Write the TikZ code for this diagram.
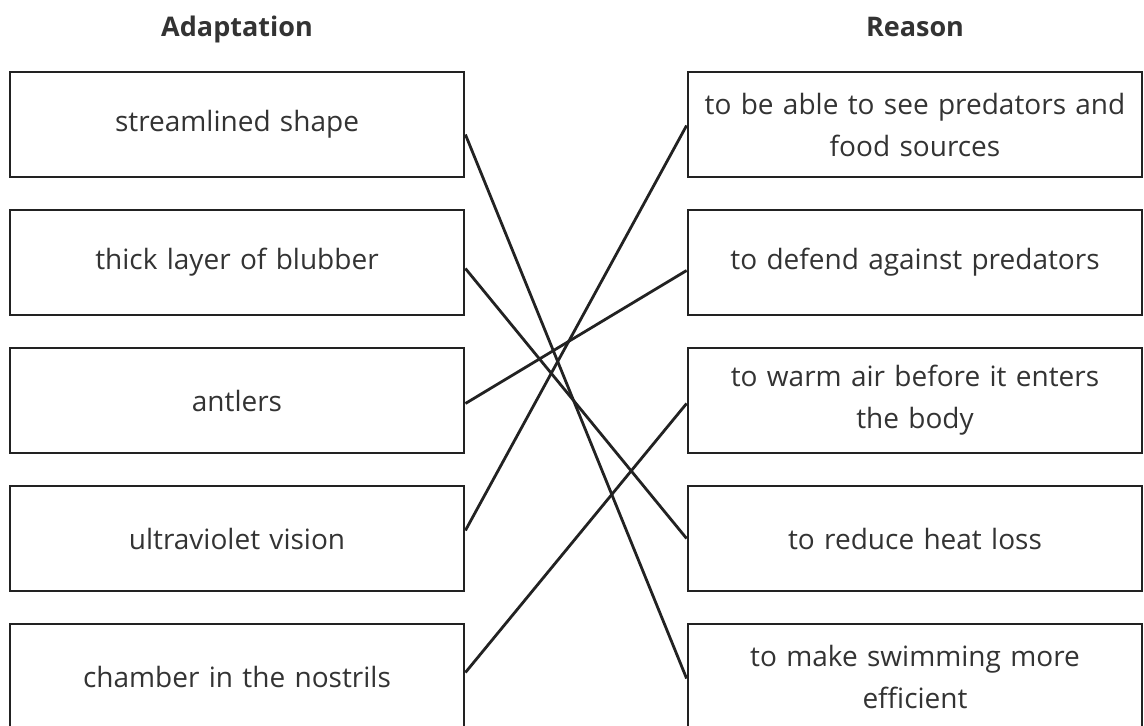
\documentclass[tikz,border=0pt]{standalone}
\usepackage{fontspec}
\setmainfont{Open Sans}
\definecolor{ink}{HTML}{222222}
\definecolor{txt}{HTML}{333333}
\begin{document}
\begin{tikzpicture}[x=1pt,y=-1pt,
  box/.style={draw=ink,line width=2.8pt,minimum width=454pt,minimum height=105pt,
    inner sep=0pt,align=center,text width=446pt,text=txt,
    font=\fontsize{28pt}{42pt}\selectfont},
  head/.style={text=txt,anchor=base,font=\fontsize{27pt}{32pt}\selectfont\bfseries},
  link/.style={draw=ink,line width=2.8pt}]
\useasboundingbox (0,0) rectangle (1144,726);
\clip (0,0) rectangle (1144,726);
\node[head] (hA) at (237,36) {Adaptation};
\node[head] (hR) at (915,36) {Reason};
\node[box] (a1) at (237,124.5) {streamlined shape};
\node[box] (a2) at (237,262.5) {thick layer of blubber};
\node[box] (a3) at (237,400.5) {antlers};
\node[box] (a4) at (237,538.5) {ultraviolet vision};
\node[box] (a5) at (237,676.5) {chamber in the nostrils};
\node[box] (r1) at (915,124.5) {to be able to see predators and\\food sources};
\node[box] (r2) at (915,262.5) {to defend against predators};
\node[box] (r3) at (915,400.5) {to warm air before it enters\\the body};
\node[box] (r4) at (915,538.5) {to reduce heat loss};
\node[box] (r5) at (915,676.5) {to make swimming more\\efficient};
\draw[link] ([yshift=-10pt]a1.east) -- ([yshift=-2pt]r5.west);
\draw[link] ([yshift=-6pt]a2.east) -- (r4.west);
\draw[link] ([yshift=-3pt]a3.east) -- ([yshift=-8pt]r2.west);
\draw[link] ([yshift=8pt]a4.east) -- ([yshift=-1pt]r1.west);
\draw[link] ([yshift=4pt]a5.east) -- ([yshift=-3pt]r3.west);
\end{tikzpicture}
\end{document}
